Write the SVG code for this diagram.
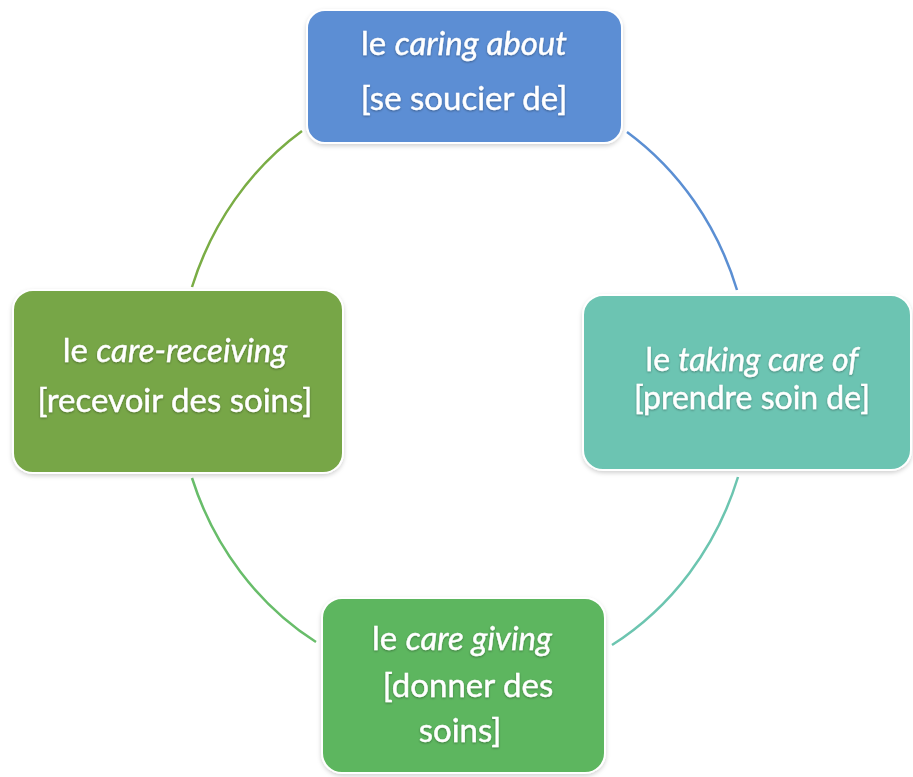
<svg xmlns="http://www.w3.org/2000/svg" width="913" height="777" viewBox="0 0 913 777">
<defs>
<style>
.box{stroke:#ffffff;stroke-width:2}
.t{font-family:Lato,"Open Sans","Liberation Sans",sans-serif;font-size:33px;fill:#ffffff;stroke:#ffffff;stroke-width:0.4;text-anchor:middle}
.r{font-size:32px}
.i{font-style:italic}
.arc{fill:none;stroke-width:2.5}
</style>
<filter id="sh" x="-10%" y="-10%" width="120%" height="130%">
<feDropShadow dx="0" dy="1" stdDeviation="1.2" flood-color="#000000" flood-opacity="0.35"/>
</filter>
<filter id="bs" x="-5%" y="-5%" width="110%" height="115%">
<feDropShadow dx="0" dy="2" stdDeviation="2" flood-color="#000000" flood-opacity="0.18"/>
</filter>
</defs>
<rect width="913" height="777" fill="#ffffff"/>
<g id="connectors">
<path class="arc" stroke="#5b8fd3" d="M627,132 A287,306 0 0 1 737,290"/>
<path class="arc" stroke="#7aad45" d="M302,131 A287,306 0 0 0 192,287"/>
<path class="arc" stroke="#68bd6a" d="M192,478 A287,306 0 0 0 316,642"/>
<path class="arc" stroke="#6cc5b0" d="M738,477 A287,306 0 0 1 612,645"/>
</g>
<g id="node-top">
<rect class="box" x="307" y="10" width="315" height="133" rx="18" fill="#5b8ed4" filter="url(#bs)"/>
<g filter="url(#sh)">
<text class="t" x="464" y="55">le <tspan class="i">caring about</tspan></text>
<text class="t" x="464" y="110">[se soucier de]</text>
</g>
</g>
<g id="node-right">
<rect class="box" x="583" y="295" width="328" height="175" rx="20" fill="#6cc4b2" filter="url(#bs)"/>
<g filter="url(#sh)">
<text class="t r" x="752" y="371">le <tspan class="i">taking care of</tspan></text>
<text class="t r" x="752" y="409">[prendre soin de]</text>
</g>
</g>
<g id="node-left">
<rect class="box" x="13" y="290" width="330" height="183" rx="20" fill="#77a646" filter="url(#bs)"/>
<g filter="url(#sh)">
<text class="t" x="175" y="362">le <tspan class="i">care-receiving</tspan></text>
<text class="t" x="175" y="412">[recevoir des soins]</text>
</g>
</g>
<g id="node-bottom">
<rect class="box" x="322" y="598" width="283" height="175" rx="20" fill="#5db65e" filter="url(#bs)"/>
<g filter="url(#sh)">
<text class="t" x="462" y="650">le <tspan class="i">care giving</tspan></text>
<text class="t" x="468" y="697">[donner des</text>
<text class="t" x="460" y="742">soins]</text>
</g>
</g>
</svg>
